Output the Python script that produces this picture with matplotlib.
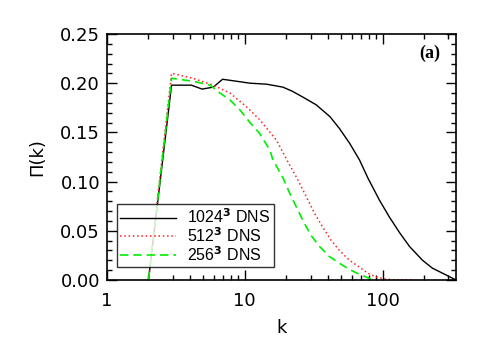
import matplotlib
matplotlib.use('Agg')
import matplotlib.pyplot as plt
from matplotlib.ticker import FixedLocator, LogLocator, NullFormatter, MultipleLocator

# 1024^3 run
k_1024 = [2.0, 2.94, 4.1, 4.9, 5.9, 6.9, 8.7, 10.9, 14.4, 18.9, 22.0, 26.3, 33.0, 41.5, 48.6, 57.6,
          68.0, 78.0, 95.0, 112.0, 133.0, 157.0, 195.0, 230.0, 290.0, 341.0]
pi_1024 = [0.0, 0.198, 0.198, 0.194, 0.196, 0.204, 0.202, 0.200, 0.199, 0.196, 0.192, 0.186, 0.178, 0.166, 0.154, 0.139,
           0.122, 0.104, 0.081, 0.064, 0.048, 0.034, 0.020, 0.012, 0.005, 0.0]
# 512^3 run
k_512 = [2.0, 2.94, 4.2, 5.9, 7.8, 10.3, 12.8, 17.0, 20.2, 23.8, 28.1, 32.0, 36.7, 42.0, 48.6, 57.6,
         68.0, 78.0, 90.0, 105.0, 126.0, 165.0]
pi_512 = [0.0, 0.210, 0.205, 0.198, 0.190, 0.176, 0.163, 0.142, 0.122, 0.104, 0.084, 0.068, 0.054, 0.041, 0.030, 0.020,
          0.013, 0.007, 0.003, 0.001, 0.0, 0.0]
# 256^3 run
k_256 = [2.0, 2.94, 4.2, 5.6, 6.6, 7.8, 9.2, 10.9, 12.8, 15.2, 16.0, 18.9, 21.2, 26.3, 30.0, 34.9,
         41.0, 48.6, 57.0, 65.0, 76.0, 85.0]
pi_256 = [0.0, 0.205, 0.202, 0.198, 0.190, 0.183, 0.173, 0.160, 0.149, 0.132, 0.122, 0.104, 0.088, 0.061, 0.046, 0.034,
          0.024, 0.017, 0.011, 0.007, 0.003, 0.0]

plt.rcParams['font.family'] = ['DejaVu Sans']
plt.rcParams['mathtext.fontset'] = 'dejavusans'

fig = plt.figure(figsize=(4.88, 3.49), dpi=100)
ax = fig.add_axes([107/488, 1 - 280/349, (456-107)/488, (280-34)/349])

ax.plot(k_1024, pi_1024, color='black', lw=1.0, label='1024$^\\mathbf{3}$ DNS')
ax.plot(k_512, pi_512, color='#ff2020', lw=1.1, ls=(0, (1, 1.8)), label='512$^\\mathbf{3}$ DNS')
ax.plot(k_256, pi_256, color='#00ee00', lw=1.2, ls=(0, (5, 3)), label='256$^\\mathbf{3}$ DNS')

ax.set_xscale('log')
ax.set_xlim(1, 341)
ax.set_ylim(0, 0.25)
ax.yaxis.set_major_locator(MultipleLocator(0.05))
ax.yaxis.set_minor_locator(MultipleLocator(0.01))
ax.yaxis.set_major_formatter(plt.FormatStrFormatter('%.2f'))
ax.xaxis.set_major_locator(FixedLocator([1, 10, 100]))
ax.xaxis.set_minor_locator(LogLocator(base=10, subs=range(2, 10)))
ax.xaxis.set_minor_formatter(NullFormatter())
ax.set_xticklabels(['1', '10', '100'])

ax.tick_params(which='both', direction='in', top=True, right=True, width=1.0)
ax.tick_params(which='major', length=7, labelsize=13)
ax.tick_params(axis='y', which='major', pad=5)
ax.tick_params(axis='x', which='major', pad=9)
ax.tick_params(which='minor', length=3.5)
for s in ax.spines.values():
    s.set_linewidth(1.2)

ax.set_xlabel('k', fontsize=13, labelpad=6)
ax.set_ylabel('\u03a0(k)', fontsize=13, labelpad=10)
ax.text(0.955, 0.955, '(a)', transform=ax.transAxes, ha='right', va='top',
        fontsize=13, fontweight='bold', family='Liberation Serif')

leg = ax.legend(loc='lower left', bbox_to_anchor=(0.029, 0.053), borderaxespad=0,
                prop={'family': 'Liberation Sans', 'size': 11.5},
                frameon=True, fancybox=False, edgecolor='black', handlelength=3.5,
                borderpad=0.2, labelspacing=0.0, handletextpad=0.7)
leg.get_frame().set_linewidth(1.0)

fig.savefig('out.png', dpi=100)
